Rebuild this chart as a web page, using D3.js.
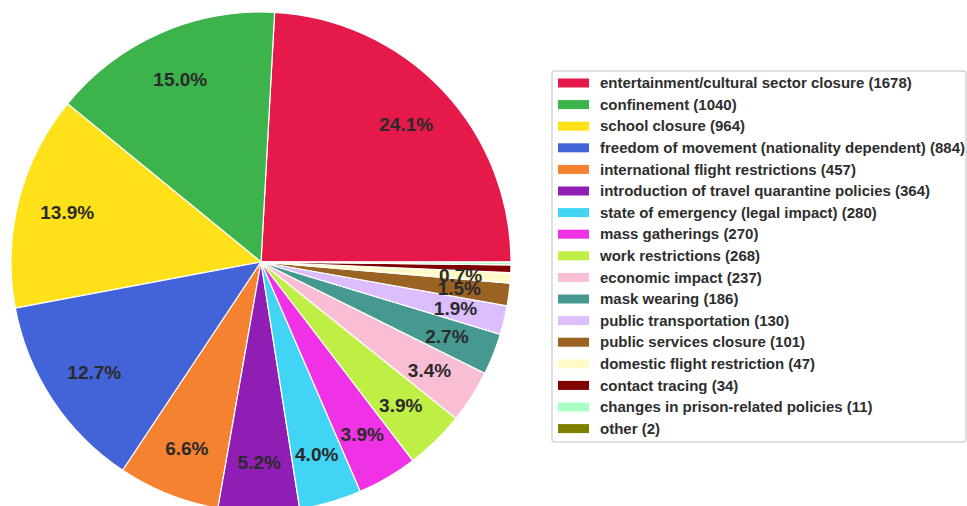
<!DOCTYPE html>
<html>
<head>
<meta charset="utf-8">
<script src="https://cdn.jsdelivr.net/npm/d3@7"></script>
<style>
  body { margin: 0; background: #fff; }
  svg { display: block; font-family: "Liberation Sans", Arial, sans-serif; }
</style>
</head>
<body>
<div id="chart"></div>
<script>
const categories = [
  'entertainment/cultural sector closure', 'confinement', 'school closure',
  'freedom of movement (nationality dependent)', 'international flight restrictions',
  'introduction of travel quarantine policies', 'state of emergency (legal impact)',
  'mass gatherings', 'work restrictions', 'economic impact', 'mask wearing',
  'public transportation', 'public services closure', 'domestic flight restriction',
  'contact tracing', 'changes in prison-related policies', 'other'
];
const counts = [1678, 1040, 964, 884, 457, 364, 280, 270, 268, 237, 186, 130, 101, 47, 34, 11, 2];
const colors = [
  '#e6194b', '#3cb44b', '#ffe119', '#4363d8', '#f58231', '#911eb4', '#42d4f4',
  '#f032e6', '#bfef45', '#fabed4', '#469990', '#dcbeff', '#9a6324', '#fffac8',
  '#800000', '#aaffc3', '#808000'
];

const width = 967, height = 506;
const cx = 261, cy = 262, radius = 250;

const data = categories.map((c, i) => ({ name: c, value: counts[i], color: colors[i] }));
const total = d3.sum(counts);

const svg = d3.select('#chart').append('svg')
  .attr('width', width)
  .attr('height', height);

// counterclockwise from 3 o'clock
const pie = d3.pie()
  .sort(null)
  .value(d => d.value)
  .startAngle(Math.PI / 2)
  .endAngle(Math.PI / 2 - 2 * Math.PI);

const arc = d3.arc().innerRadius(0).outerRadius(radius);
const labelArc = d3.arc().innerRadius(radius * 0.8).outerRadius(radius * 0.8);

const g = svg.append('g').attr('transform', `translate(${cx},${cy})`);
const arcs = pie(data);

g.selectAll('path.slice')
  .data(arcs)
  .join('path')
  .attr('class', 'slice')
  .attr('d', arc)
  .attr('fill', d => d.data.color)
  .attr('stroke', '#fff')
  .attr('stroke-width', 1.2);

g.selectAll('text.pct')
  .data(arcs.filter(d => d.data.value / total >= 0.006))
  .join('text')
  .attr('class', 'pct')
  .attr('transform', d => `translate(${labelArc.centroid(d)})`)
  .attr('text-anchor', 'middle')
  .attr('dy', '0.36em')
  .attr('font-size', 19)
  .attr('font-weight', 'bold')
  .attr('fill', '#2a2a2a')
  .text(d => d3.format('.1%')(d.data.value / total));

// legend
const legend = svg.append('g').attr('transform', 'translate(552,71)');
legend.append('rect')
  .attr('width', 414)
  .attr('height', 371)
  .attr('rx', 3)
  .attr('fill', '#fff')
  .attr('stroke', '#d6d6d6')
  .attr('stroke-width', 1.5);

const rowY = d3.scaleLinear().domain([0, 1]).range([12, 33.6]);

const item = legend.selectAll('g.item')
  .data(data)
  .join('g')
  .attr('class', 'item')
  .attr('transform', (d, i) => `translate(0,${rowY(i)})`);

item.append('rect')
  .attr('x', 6)
  .attr('y', -4.5)
  .attr('width', 31)
  .attr('height', 9)
  .attr('fill', d => d.color);

item.append('text')
  .attr('x', 48)
  .attr('dy', '0.35em')
  .attr('font-size', 15)
  .attr('font-weight', 'bold')
  .attr('fill', '#2e2e2e')
  .text(d => `${d.name} (${d.value})`);
</script>
</body>
</html>
